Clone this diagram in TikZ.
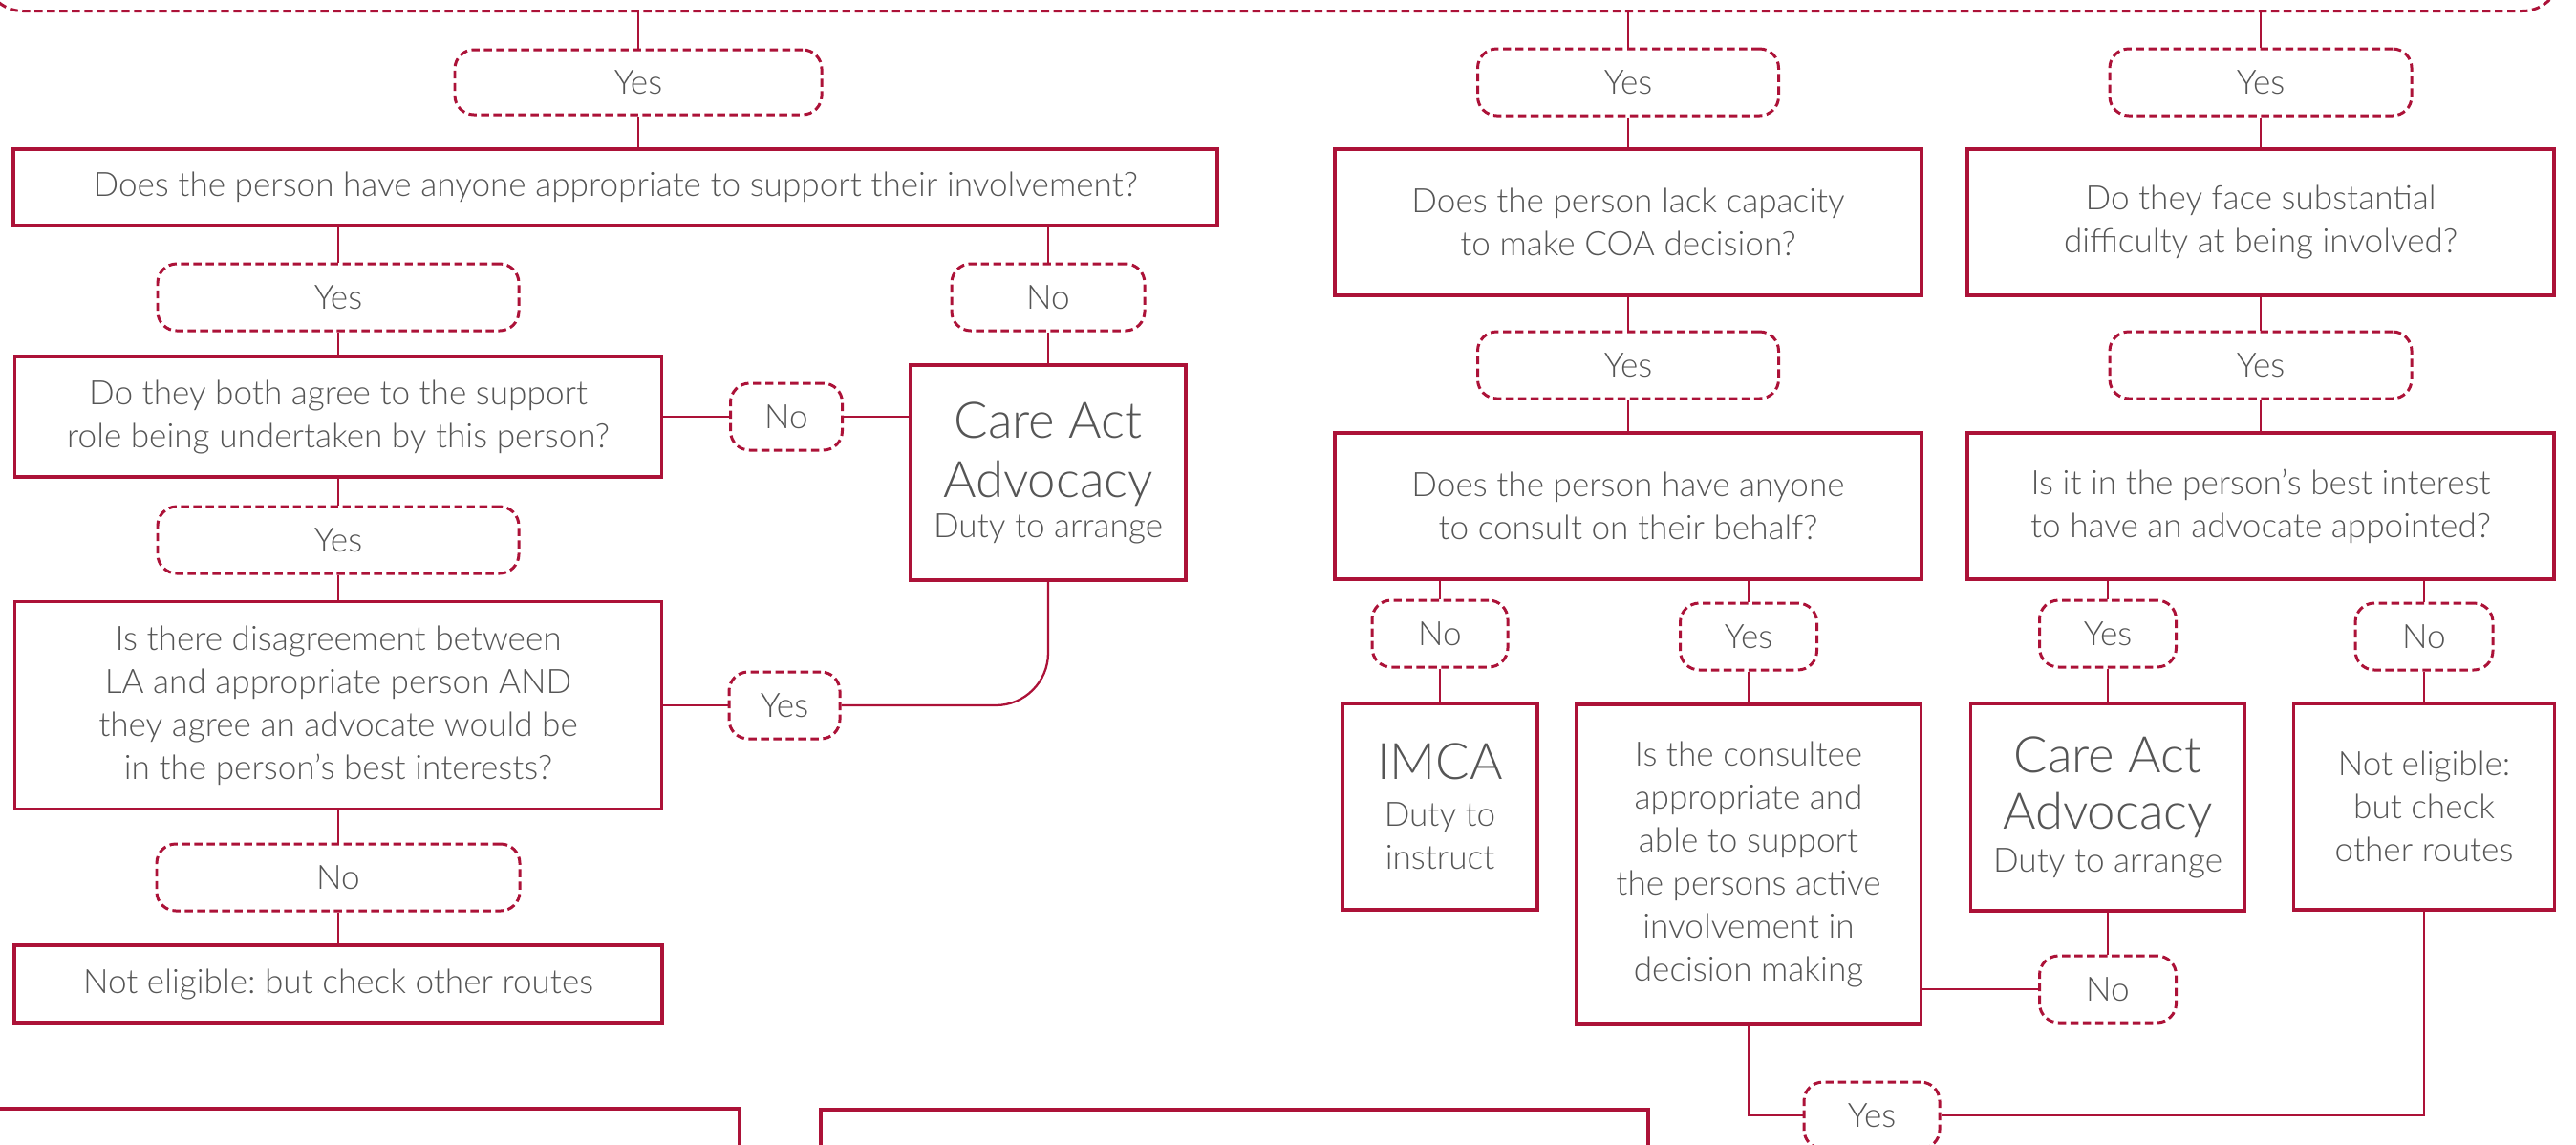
\documentclass[tikz,border=0pt]{standalone}
\usepackage{fontspec}
\setmainfont{Lato Light}
\usetikzlibrary{positioning}
\definecolor{crim}{RGB}{172,18,56}
\definecolor{txtgrey}{RGB}{85,85,85}
\newcommand{\caafont}{\fontsize{15}{17}\selectfont}

\begin{document}
\begin{tikzpicture}[font=\fontsize{10}{12.8}\selectfont\frenchspacing, text=txtgrey, node distance=1cm, on grid]
    \tikzstyle{qbox}=[draw=crim, line width=1.1pt, align=center, inner sep=0pt]
    \tikzstyle{ans}=[draw=crim, line width=0.85pt, dash pattern=on 2.4pt off 1.3pt, rounded corners=0.2cm, fill=white, minimum height=0.7cm, inner sep=0pt]
    \tikzstyle{link}=[draw=crim, line width=0.65pt]
    \useasboundingbox (0,0) rectangle (26.96,-11.97);
    \clip (0,0) rectangle (26.96,-11.97);

    \node[ans, minimum width=26.96cm, minimum height=2cm, anchor=south, rounded corners=0.4cm] (crit) at (13.32,-0.13) {};

    % left column
    \node[ans, minimum width=3.84cm, minimum height=0.68cm] (yes1) at (6.68,-0.86) {Yes};
    \node[qbox, minimum width=12.6cm, minimum height=0.8cm, below=1.10cm of yes1, xshift=-0.24cm] (anyone) {Does the person have anyone appropriate to support their involvement?};
    \node[ans, minimum width=3.78cm] (yes2) at (3.54,-3.11) {Yes};
    \node[ans, minimum width=2.02cm, right=7.43cm of yes2] (no1) {No};
    \node[qbox, minimum width=6.77cm, minimum height=1.26cm, below=1.25cm of yes2] (agree) {Do they both agree to the support\\role being undertaken by this person?};
    \node[ans, minimum width=1.17cm, right=4.69cm of agree] (no2) {No};
    \node[qbox, minimum width=2.88cm, minimum height=2.25cm, below=1.835cm of no1] (caa) {{\caafont Care Act}\\[5pt]{\caafont Advocacy}\\[-1pt]Duty to arrange};
    \node[ans, minimum width=3.78cm, below=1.29cm of agree] (yes3) {Yes};
    \node[qbox, minimum width=6.77cm, minimum height=2.17cm, below=1.73cm of yes3] (disagree) {Is there disagreement between\\LA and appropriate person AND\\they agree an advocate would be\\in the person’s best interests?};
    \node[ans, minimum width=1.16cm, right=4.67cm of disagree] (yes4) {Yes};
    \node[ans, minimum width=3.80cm, below=1.80cm of disagree] (no3) {No};
    \node[qbox, minimum width=6.78cm, minimum height=0.81cm, below=1.115cm of no3] (notelig) {Not eligible: but check other routes};
    \node[qbox, minimum width=8cm, minimum height=2cm, anchor=north east] (keybox) at (7.76,-11.58) {};
    \node[qbox, minimum width=8.66cm, minimum height=2cm, anchor=north west] (examplebox) at (8.57,-11.59) {};

    % middle column
    \node[ans, minimum width=3.15cm] (yes5) at (17.04,-0.86) {Yes};
    \node[qbox, minimum width=6.14cm, minimum height=1.53cm, below=1.465cm of yes5] (lack) {Does the person lack capacity\\to make COA decision?};
    \node[ans, minimum width=3.15cm, below=1.495cm of lack] (yes6) {Yes};
    \node[qbox, minimum width=6.14cm, minimum height=1.53cm, below=1.475cm of yes6] (consult) {Does the person have anyone\\to consult on their behalf?};
    \node[ans, minimum width=1.42cm] (no4) at (15.07,-6.63) {No};
    \node[ans, minimum width=1.43cm] (yes7) at (18.30,-6.66) {Yes};
    \node[qbox, minimum width=2.04cm, minimum height=2.16cm, below=1.81cm of no4] (imca) {{\caafont IMCA}\\[1pt]Duty to\\instruct};
    \node[qbox, minimum width=3.61cm, minimum height=3.34cm, below=2.38cm of yes7] (consultee) {Is the consultee\\appropriate and\\able to support\\the persons active\\involvement in\\decision making};
    \node[ans, minimum width=1.42cm] (yes8) at (19.59,-11.67) {Yes};

    % right column
    \node[ans, minimum width=3.16cm] (yes9) at (23.66,-0.86) {Yes};
    \node[qbox, minimum width=6.14cm, minimum height=1.53cm, below=1.465cm of yes9] (difficulty) {Do they face substantial\\difficulty at being involved?};
    \node[ans, minimum width=3.16cm, below=1.495cm of difficulty] (yes10) {Yes};
    \node[qbox, minimum width=6.14cm, minimum height=1.53cm, below=1.475cm of yes10] (interest) {Is it in the person’s best interest\\to have an advocate appointed?};
    \node[ans, minimum width=1.43cm] (yes11) at (22.06,-6.63) {Yes};
    \node[ans, minimum width=1.44cm] (no6) at (25.37,-6.66) {No};
    \node[qbox, minimum width=2.87cm, minimum height=2.17cm, below=1.815cm of yes11] (caab) {{\caafont Care Act}\\[4pt]{\caafont Advocacy}\\Duty to arrange};
    \node[qbox, minimum width=2.73cm, minimum height=2.16cm, below=1.78cm of no6] (noteligb) {Not eligible:\\but check\\other routes};
    \node[ans, minimum width=1.43cm, below=1.905cm of caab] (no5) {No};

    \draw[link] (crit.south -| yes1) -- (yes1);
    \draw[link] (crit.south -| yes5) -- (yes5);
    \draw[link] (crit.south -| yes9) -- (yes9);

    \draw[link] (yes1) -- (yes1 |- anyone.north);
    \draw[link] (anyone.south -| yes2) -- (yes2);
    \draw[link] (anyone.south -| no1) -- (no1);
    \draw[link] (yes2) -- (agree);
    \draw[link] (agree) -- (no2);
    \draw[link] (no2) -- (no2 -| caa.west);
    \draw[link] (no1) -- (caa);
    \draw[link] (agree) -- (yes3);
    \draw[link] (yes3) -- (disagree);
    \draw[link] (disagree) -- (yes4);
    \draw[link, rounded corners=0.55cm] (yes4) -| (caa);
    \draw[link] (disagree) -- (no3);
    \draw[link] (no3) -- (notelig);

    \draw[link] (yes5) -- (lack);
    \draw[link] (lack) -- (yes6);
    \draw[link] (yes6) -- (consult);
    \draw[link] (consult.south -| no4) -- (no4);
    \draw[link] (consult.south -| yes7) -- (yes7);
    \draw[link] (no4) -- (imca);
    \draw[link] (yes7) -- (consultee);
    \draw[link] (consultee.east |- no5) -- (no5);
    \draw[link] (consultee) |- (yes8);

    \draw[link] (yes9) -- (difficulty);
    \draw[link] (difficulty) -- (yes10);
    \draw[link] (yes10) -- (interest);
    \draw[link] (interest.south -| yes11) -- (yes11);
    \draw[link] (interest.south -| no6) -- (no6);
    \draw[link] (yes11) -- (caab);
    \draw[link] (no6) -- (noteligb);
    \draw[link] (no5) -- (caab);
    \draw[link] (yes8) -| (noteligb);
\end{tikzpicture}
\end{document}
